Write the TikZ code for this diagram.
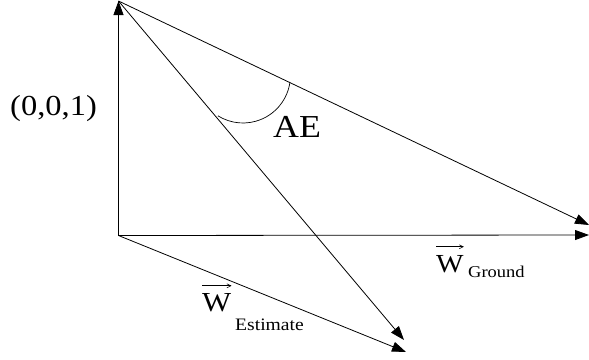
\documentclass[tikz,border=0pt]{standalone}
\usepackage{fontspec}
\setmainfont{Liberation Serif}
\usetikzlibrary{arrows.meta}
\begin{document}
\begin{tikzpicture}[x=1pt,y=-1pt,
  vec/.style={line width=0.8pt,-{Triangle[length=14pt,width=10pt]}},
  lbl/.style={inner sep=0pt,anchor=base west,xscale=1.12},
  overarrow/.style={line width=0.6pt,-{Straight Barb[length=4pt,width=4pt]}}]
\useasboundingbox (0,0) rectangle (589,359);
\coordinate (O) at (118.5,235.5);
\coordinate (T) at (118.5,1);
\coordinate (H) at (589,235);
\coordinate (R) at (589,225);
\coordinate (E1) at (404,340);
\coordinate (E2) at (406,352);
\coordinate (ctr) at (243,75.6);
\draw[vec] (O) -- (T);
\draw[vec] (O) -- (H);
\draw[vec] (T) -- (R);
\draw[vec] (T) -- (E1);
\draw[vec] (O) -- (E2);
\draw[line width=0.7pt] ([shift={(-7.8:47.4pt)}]ctr) arc[start angle=-7.8,end angle=-122,radius=47.4pt];
\node[lbl,font=\fontsize{29}{30}\selectfont] (pt) at (10,115) {(0,0,1)};
\node[lbl,font=\fontsize{32}{34}\selectfont] (ae) at (273,137) {AE};
\node[lbl,font=\fontsize{26}{28}\selectfont] (wg) at (436,272) {W};
\node[lbl,font=\fontsize{16.5}{18}\selectfont] (gr) at (468,277) {Ground};
\node[lbl,font=\fontsize{27.5}{29}\selectfont] (we) at (202,311) {W};
\node[lbl,font=\fontsize{17.5}{19}\selectfont] (es) at (235,330) {Estimate};
\draw[overarrow] ([yshift=8pt]wg.north west) -- ([yshift=8pt]wg.north east);
\draw[overarrow] ([yshift=7pt]we.north west) -- ([yshift=7pt]we.north east);
\end{tikzpicture}
\end{document}
